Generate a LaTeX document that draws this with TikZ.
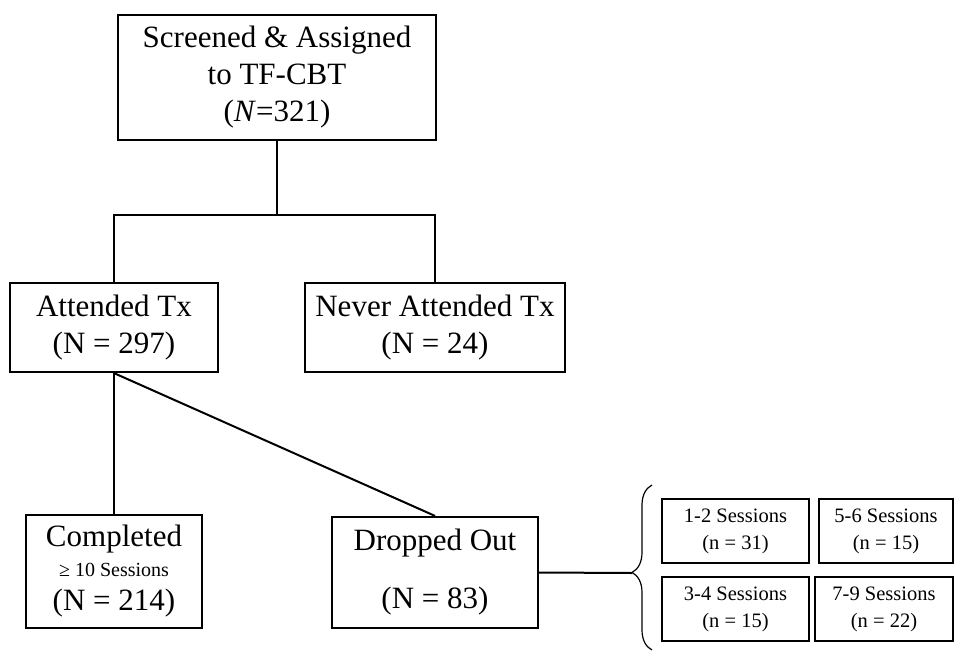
\documentclass[tikz,border=0pt]{standalone}
\usepackage{fontspec}
\setmainfont{Liberation Serif}
\usetikzlibrary
  {
    positioning,              % place nodes relative to other nodes
    calc,
    decorations.pathreplacing, % the curly brace
  }

\begin{document}
\begin{tikzpicture}
    [
      x=1pt, y=-1pt,
      box/.style=
        {
          rectangle,
          draw=black,
          line width=2.2pt,
          align=center,
          inner sep=0pt,
          font=\fontsize{31}{37}\selectfont,
        },
      smallbox/.style=
        {
          box,
          minimum height=64pt,
          font=\fontsize{20.5}{27}\selectfont,
        },
      link/.style=
        {
          line width=2pt,
        },
    ]
    \useasboundingbox (0,0) rectangle (955,653);

    \node[box, minimum width=318pt, minimum height=125pt]
      (screened)  at (277,77.5)  {Screened \& Assigned\\to TF-CBT\\(\textit{N}=321)};
    \node[box, minimum width=208pt, minimum height=89pt]
      (attended)  at (114,327.5) {Attended Tx\\(N = 297)};
    \node[box, minimum width=260pt, minimum height=89pt]
      (never)     at (435,327.5) {Never Attended Tx\\(N = 24)};
    \node[box, minimum width=176pt, minimum height=113pt]
      (completed) at (114,571.5)
      {Completed\\[-7pt]{\fontsize{20}{23}\selectfont ≥ 10 Sessions}\\[-3pt](N = 214)};
    \node[box, minimum width=206pt, minimum height=111pt]
      (dropped)   at (435,572.5) {Dropped Out\\[21pt](N = 83)};

    % sessions attended before dropping out
    \node[smallbox, minimum width=147pt] (s12) at (735.5,531) {1-2 Sessions\\(n = 31)};
    \node[smallbox, minimum width=134pt] (s56) at (886,531)   {5-6 Sessions\\(n = 15)};
    \node[smallbox, minimum width=147pt] (s34) at (735.5,609) {3-4 Sessions\\(n = 15)};
    \node[smallbox, minimum width=138pt] (s79) at (884,609)   {7-9 Sessions\\(n = 22)};

    \coordinate (fork) at (277,215);
    \coordinate (tip)  at (632,573);

    \draw[link] (screened.south) -- (fork);
    \draw[link] (attended.north) |- (fork) -| (never.north);
    \draw[link] (attended.south) -- (completed.north);
    \draw[link] (attended.south) -- (dropped.north);
    \draw[link] (dropped.east) -- (tip);
    \draw[line width=1.2pt,
          decorate, decoration={brace, amplitude=20pt, aspect=0.47}]
      (652,650) -- (652,485);
  \end{tikzpicture}
\end{document}
